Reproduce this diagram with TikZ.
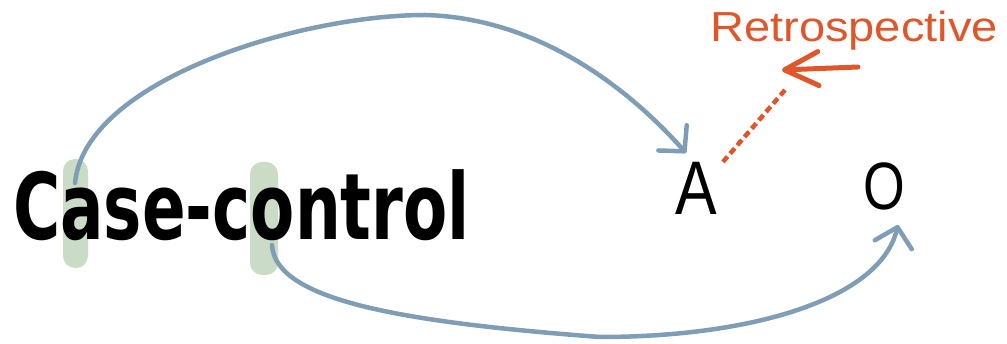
\documentclass[tikz,border=0pt]{standalone}
\usepackage{fontspec}
\usepackage{graphicx}
\setmainfont{Liberation Sans}
\newfontfamily\ccfont{DejaVu Sans}
\usetikzlibrary{arrows.meta}
\definecolor{linkblue}{HTML}{809DB6}
\definecolor{barsage}{HTML}{CADBC6}
\definecolor{noteorange}{HTML}{E0562B}
\tikzset{
  markbar/.style={fill=barsage, draw=none, rounded corners=12pt, inner sep=0pt},
  link/.style={draw=linkblue, line width=4.5pt, line cap=round, line join=round,
    -{Straight Barb[length=18pt,width=38pt,round]}},
  letter/.style={inner sep=0pt, font=\fontsize{76}{80}\selectfont},
  note/.style={inner sep=0pt, text=noteorange, font=\fontsize{42}{46}\selectfont},
  notearrow/.style={draw=noteorange, line width=5pt, line cap=round, line join=round,
    -{Straight Barb[length=34pt,width=34pt,round]}},
  notedots/.style={draw=noteorange, line width=4.5pt, dash pattern=on 7pt off 4pt}
}
\begin{document}
\begin{tikzpicture}[x=1pt,y=-1pt]
\useasboundingbox (0,0) rectangle (1007,344);
% green highlight bars
\node[markbar, minimum width=25pt, minimum height=109pt] (bar1) at (75.5,213.5) {};
\node[markbar, minimum width=28pt, minimum height=113pt] (bar2) at (264,218.5) {};
% main word
\node[inner sep=0pt, anchor=base] (word) at (241.5,240)
  {\scalebox{0.70}[1]{\ccfont\bfseries\fontsize{92}{96}\selectfont Case-control}};
% A and O
\node[letter, anchor=base] (A) at (696,215) {\scalebox{0.82}[1]{A}};
\node[letter, anchor=base, font=\fontsize{67}{70}\selectfont] (O) at (884,210) {\scalebox{0.8}[1]{O}};
% note
\node[note, anchor=base] (retro) at (854,42) {\scalebox{1.12}[1]{Retrospective}};
% connector anchor points
\coordinate (s1) at (75,183);
\coordinate (s2) at (272,245);
\coordinate (tA) at (686,153);
\coordinate (tO) at (898,225);
\coordinate (nStart) at (858,67);
\coordinate (nTip) at (782,70);
\coordinate (dTop) at (785,90);
\coordinate (dBot) at (722,163);
% curves
\draw[link] (s1) .. controls (85,80) and (300,15) .. (425,15)
  .. controls (540,18) and (630,90) .. (tA);
\draw[link] (s2) .. controls (275,300) and (400,322) .. (600,337)
  .. controls (750,337) and (880,300) .. (tO);
% note arrow and dotted link
\draw[notearrow] (nStart) -- (nTip);
\draw[notedots] (dTop) -- (dBot);
\end{tikzpicture}
\end{document}
